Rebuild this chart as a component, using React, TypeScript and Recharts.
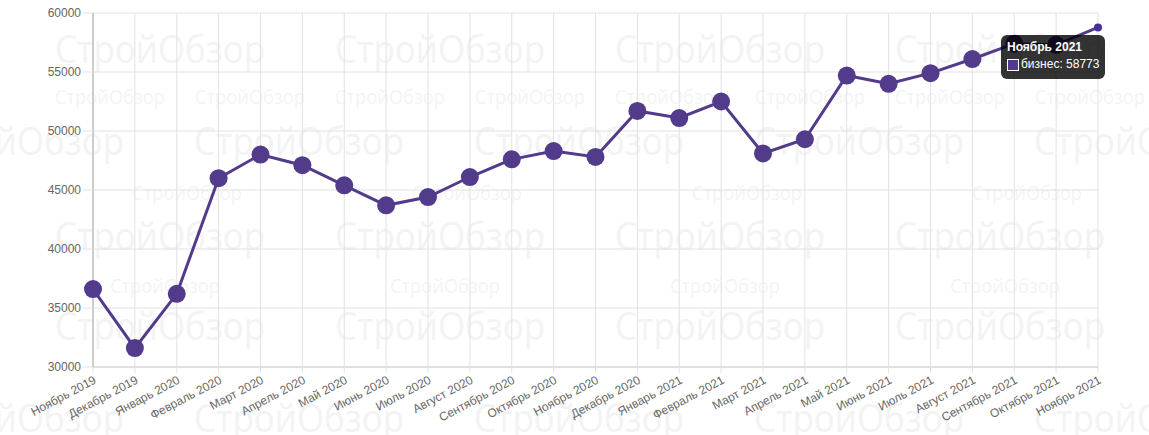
import { CartesianGrid, Line, LineChart, Tooltip, XAxis, YAxis } from "recharts";

const months = [
  "Ноябрь 2019", "Декабрь 2019", "Январь 2020", "Февраль 2020", "Март 2020",
  "Апрель 2020", "Май 2020", "Июнь 2020", "Июль 2020", "Август 2020",
  "Сентябрь 2020", "Октябрь 2020", "Ноябрь 2020", "Декабрь 2020", "Январь 2021",
  "Февраль 2021", "Март 2021", "Апрель 2021", "Май 2021", "Июнь 2021",
  "Июль 2021", "Август 2021", "Сентябрь 2021", "Октябрь 2021", "Ноябрь 2021",
];

const business = [
  36600, 31600, 36200, 46000, 48000, 47100, 45400, 43700, 44400, 46100,
  47600, 48300, 47800, 51700, 51100, 52500, 48100, 49300, 54700, 54000,
  54900, 56100, 57400, 57300, 58773,
];

const yTicks = [30000, 35000, 40000, 45000, 50000, 55000, 60000];

const seriesName = "бизнес";
const watermark = "СтройОбзор";
const purple = "#533b8c";
const font = "'Liberation Sans', Arial, Helvetica, sans-serif";

const data = months.map((m, i) => ({ month: m, value: business[i] }));

// faint tiled site watermark that sits behind the chart
function Watermark() {
  const items: JSX.Element[] = [];
  const bigRows: [number, number][] = [[63, 55], [155, -86], [250, 55], [340, 55], [432, -86]];
  bigRows.forEach(([y, x0], r) => {
    for (let x = x0; x < 1149; x += 280) {
      items.push(
        <text key={`b${r}-${x}`} x={x} y={y} fontSize={38} textLength={210} lengthAdjust="spacingAndGlyphs"
          fill="#f3f3f3" fontFamily="'Open Sans', sans-serif">
          {watermark}
        </text>
      );
    }
  });
  const smallRows: [number, number, number][] = [[104, 55, 140], [200, 132, 280], [293, 110, 280]];
  smallRows.forEach(([y, x0, step], r) => {
    for (let x = x0; x < 1149; x += step) {
      items.push(
        <text key={`s${r}-${x}`} x={x} y={y} fontSize={20} textLength={110} lengthAdjust="spacingAndGlyphs"
          fill="#f4f4f4" fontFamily="'Open Sans', sans-serif">
          {watermark}
        </text>
      );
    }
  });
  return (
    <svg width={1149} height={435} style={{ position: "absolute", left: 0, top: 0 }}>
      {items}
    </svg>
  );
}

function Dot(props: any) {
  const { cx, cy, index } = props;
  // hovered (last) point is drawn small by activeDot
  if (index === data.length - 1) return <g key={index} />;
  return <circle key={index} cx={cx} cy={cy} r={9} fill={purple} />;
}

function TipBox({ active, payload, label }: any) {
  if (!active || !payload || !payload.length) return null;
  return (
    <div
      style={{
        background: "rgba(0,0,0,0.8)",
        color: "#fff",
        borderRadius: 6,
        padding: "4px 6px 6px 6px",
        fontFamily: font,
        fontSize: 12,
        lineHeight: "17px",
        whiteSpace: "nowrap",
      }}
    >
      <div style={{ fontWeight: "bold" }}>{label}</div>
      <div style={{ display: "flex", alignItems: "center" }}>
        <span
          style={{
            display: "inline-block",
            width: 10,
            height: 10,
            background: purple,
            border: "1px solid #fff",
            marginRight: 2,
          }}
        />
        {seriesName}: {payload[0].value}
      </div>
    </div>
  );
}

export default function App() {
  return (
    <div style={{ position: "absolute", left: 0, top: 0, width: 1149, height: 435, overflow: "hidden", background: "#fff" }}>
      <Watermark />
      <div style={{ position: "absolute", left: 0, top: 0 }}>
        <LineChart
          width={1149}
          height={435}
          data={data}
          margin={{ top: 13, right: 51, left: 0, bottom: 0 }}
        >
          <CartesianGrid stroke="#e2e2e2" />
          <XAxis
            dataKey="month"
            interval={0}
            height={68}
            angle={-28}
            textAnchor="end"
            tickSize={6}
            tickMargin={2}
            tickLine={{ stroke: "#e2e2e2" }}
            axisLine={{ stroke: "#d0d0d0" }}
            tick={{ fontSize: 12, fill: "#666", fontFamily: font }}
          />
          <YAxis
            domain={[30000, 60000]}
            ticks={yTicks}
            width={93}
            tickSize={10}
            tickMargin={2}
            tickLine={{ stroke: "#e2e2e2" }}
            axisLine={{ stroke: "#aaaaaa" }}
            tick={{ fontSize: 12, fill: "#666", fontFamily: font }}
          />
          <Tooltip
            active={true}
            defaultIndex={data.length - 1}
            cursor={false}
            position={{ x: 1001, y: 35 }}
            isAnimationActive={false}
            content={<TipBox />}
          />
          <Line
            type="linear"
            dataKey="value"
            name={seriesName}
            stroke={purple}
            strokeWidth={3}
            dot={<Dot />}
            activeDot={{ r: 4, fill: "#4b2f99", stroke: "none" }}
            isAnimationActive={false}
          />
        </LineChart>
      </div>
    </div>
  );
}
